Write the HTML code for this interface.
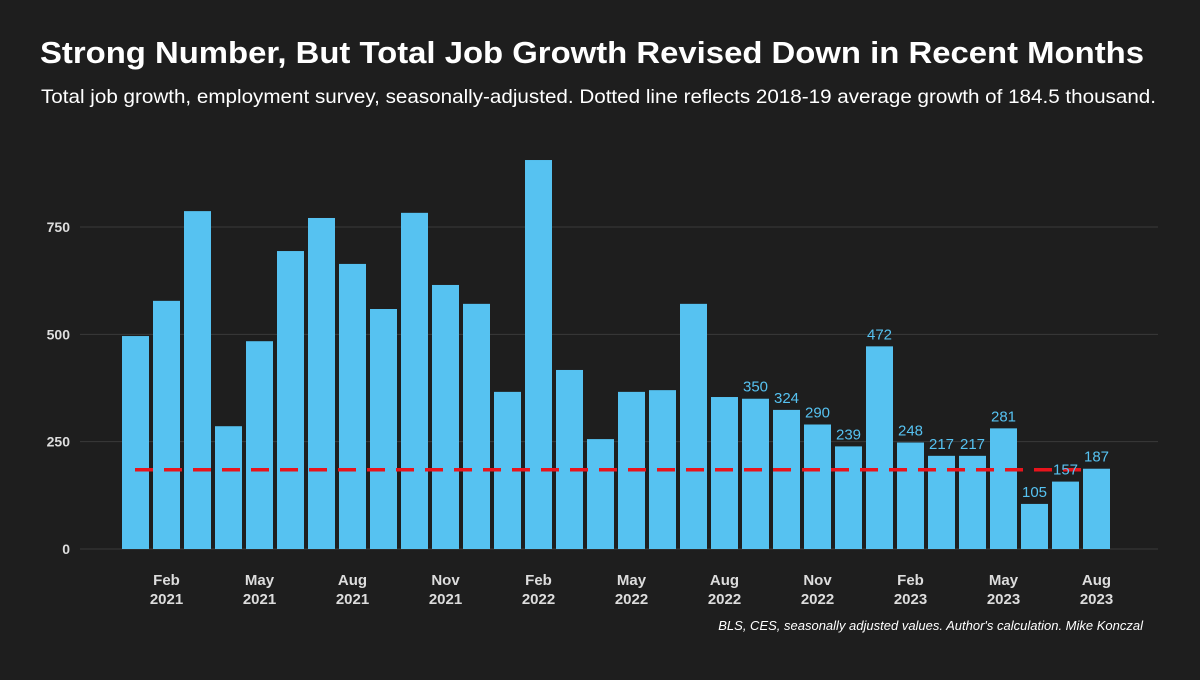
<!DOCTYPE html>
<html><head><meta charset="utf-8"><style>
body{margin:0;background:#1e1e1e;width:1200px;height:675px;overflow:hidden;font-family:"Liberation Sans",sans-serif}
</style></head><body>
<svg width="1200" height="675" xmlns="http://www.w3.org/2000/svg">
<rect width="1200" height="675" fill="#1e1e1e"/>
<text x="40" y="63" fill="#fff" font-size="31" font-weight="bold" textLength="1104" lengthAdjust="spacingAndGlyphs">Strong Number, But Total Job Growth Revised Down in Recent Months</text>
<text x="41" y="103" fill="#fff" font-size="19.5" textLength="1115" lengthAdjust="spacingAndGlyphs">Total job growth, employment survey, seasonally-adjusted. Dotted line reflects 2018-19 average growth of 184.5 thousand.</text>
<g id="grid"></g><g id="bars"></g><g id="ref"></g><g id="labels"></g><g id="xaxis"></g>
<text x="1143" y="630" fill="#fff" font-size="13" font-style="italic" text-anchor="end">BLS, CES, seasonally adjusted values. Author's calculation. Mike Konczal</text>
</svg>
<script>
const values=[496,578,787,286,484,694,771,664,559,783,615,571,366,906,417,256,366,370,571,354,350,324,290,239,472,248,217,217,281,105,157,187];
const labelStart=20;
const yTicks=[0,250,500,750];
const xTickIdx=[1,4,7,10,13,16,19,22,25,28,31];
const xTickLabels=[["Feb","2021"],["May","2021"],["Aug","2021"],["Nov","2021"],["Feb","2022"],["May","2022"],["Aug","2022"],["Nov","2022"],["Feb","2023"],["May","2023"],["Aug","2023"]];
const refValue=184.5;
const NS="http://www.w3.org/2000/svg";
const y=v=>549-v*322/750;
const x=i=>122+i*31;
const bw=27;
function mk(tag,attrs,parent,text){const e=document.createElementNS(NS,tag);for(const k in attrs)e.setAttribute(k,attrs[k]);if(text!==undefined)e.textContent=text;document.getElementById(parent).appendChild(e);return e;}
yTicks.forEach(t=>{
 const l=mk('line',{x1:80,x2:1158,y1:y(t),y2:y(t),stroke:'#3a3a3a','stroke-width':1},'grid');
 
 
 const tx=mk('text',{x:70,y:y(t)+5,fill:'#ddd','font-size':14,'font-weight':'bold','text-anchor':'end'},'grid',String(t));
 
 
});
values.forEach((v,i)=>{
 const r=mk('rect',{x:x(i),y:y(v),width:bw,height:549-y(v),fill:'#56c2f1'},'bars');
 
 
 if(i>=labelStart){
  const t=mk('text',{x:x(i)+bw/2,y:y(v)-7,fill:'#56c2f1','font-size':15,'text-anchor':'middle'},'labels',String(v));
  
  
 }
});
const rl=mk('line',{x1:135,x2:1090,y1:y(refValue),y2:y(refValue),stroke:'#e8141c','stroke-width':3.5,'stroke-dasharray':'18 11'},'ref');


xTickIdx.forEach((idx,k)=>{
 const cx=x(idx)+bw/2;
 const t1=mk('text',{x:cx,y:585,fill:'#ddd','font-size':15,'font-weight':'bold','text-anchor':'middle'},'xaxis',xTickLabels[k][0]);
 
 
 const t2=mk('text',{x:cx,y:604,fill:'#ddd','font-size':15,'font-weight':'bold','text-anchor':'middle'},'xaxis',xTickLabels[k][1]);
 
 
});
</script>
</body></html>
